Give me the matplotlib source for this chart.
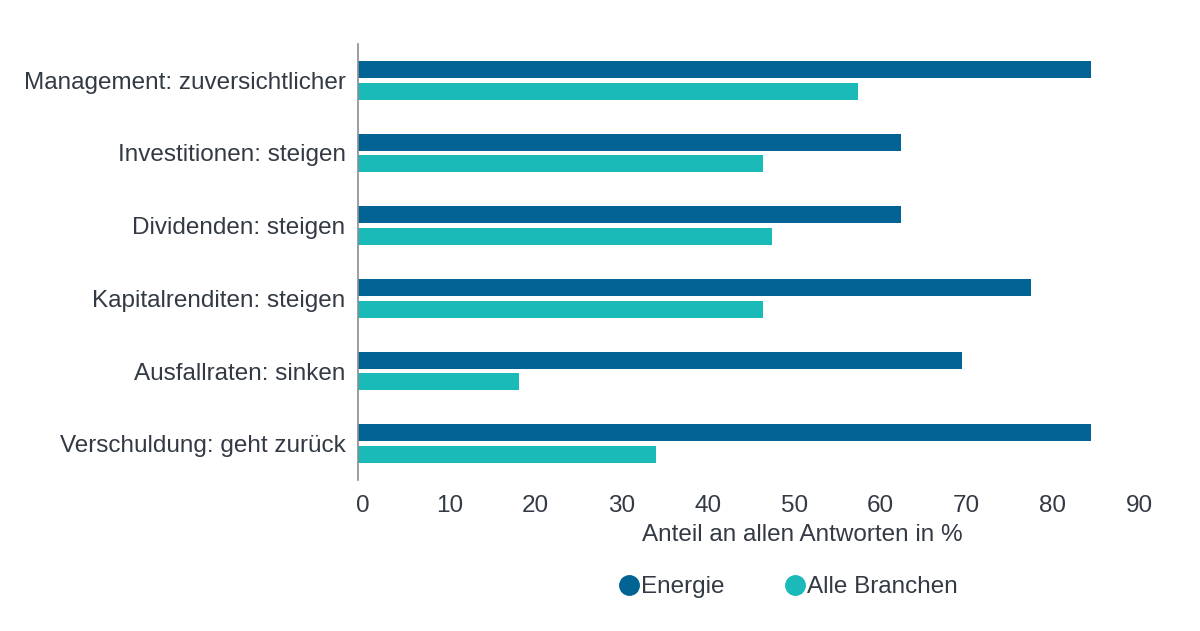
import numpy as np
import matplotlib.pyplot as plt
import matplotlib.transforms as mtransforms
from matplotlib.lines import Line2D

plt.rcParams['font.family'] = ['Liberation Sans', 'DejaVu Sans']

# Daten
categories = [
    "Management: zuversichtlicher",
    "Investitionen: steigen",
    "Dividenden: steigen",
    "Kapitalrenditen: steigen",
    "Ausfallraten: sinken",
    "Verschuldung: geht zurück",
]
energie = [85, 63, 63, 78, 70, 85]
alle_branchen = [58, 47, 48, 47, 18.7, 34.6]
x_ticks = [0, 10, 20, 30, 40, 50, 60, 70, 80, 90]

col_energie = "#006394"
col_alle = "#19bab8"
text_col = "#333a44"
fs = 17.5

fig = plt.figure(figsize=(12, 6.31), dpi=100)
ax = fig.add_axes([358 / 1200, 1 - 480 / 631, (1134 - 358) / 1200, (480 - 44) / 631])

y = np.arange(len(categories))
h = 0.234
off = 0.147
ax.barh(y - off, energie, height=h, color=col_energie, label="Energie")
ax.barh(y + off, alle_branchen, height=h, color=col_alle, label="Alle Branchen")

ax.set_ylim(len(categories) - 0.5, -0.5)
ax.set_xlim(0, 90)
ax.set_yticks(y)
ax.set_yticklabels(categories)
ax.set_xticks(x_ticks)
ax.tick_params(axis="y", length=0, pad=9, labelsize=fs, labelcolor=text_col)
ax.tick_params(axis="x", length=0, pad=11, labelsize=fs, labelcolor=text_col)

# x-Beschriftungen leicht nach rechts versetzt wie im Original
shift = mtransforms.ScaledTranslation(0.05, 0, fig.dpi_scale_trans)
for lbl in ax.get_xticklabels():
    lbl.set_transform(lbl.get_transform() + shift)

for s in ["top", "right", "bottom"]:
    ax.spines[s].set_visible(False)
ax.spines["left"].set_color("#8c8c8c")
ax.spines["left"].set_linewidth(1.2)

fig.text(802 / 1200, 1 - 535 / 631, "Anteil an allen Antworten in %",
         ha="center", va="center", fontsize=fs, color=text_col)

handles = [
    Line2D([], [], marker="o", linestyle="none", markersize=14,
           markerfacecolor=col_energie, markeredgecolor=col_energie, label="Energie"),
    Line2D([], [], marker="o", linestyle="none", markersize=14,
           markerfacecolor=col_alle, markeredgecolor=col_alle, label="Alle Branchen"),
]
leg = fig.legend(handles=handles, loc="center", bbox_to_anchor=(787 / 1200, 1 - 587 / 631),
                 ncol=2, frameon=False, fontsize=fs, handletextpad=0.0,
                 columnspacing=2.4, handlelength=1.0)
for t in leg.get_texts():
    t.set_color(text_col)

fig.savefig("out.png", dpi=100)
